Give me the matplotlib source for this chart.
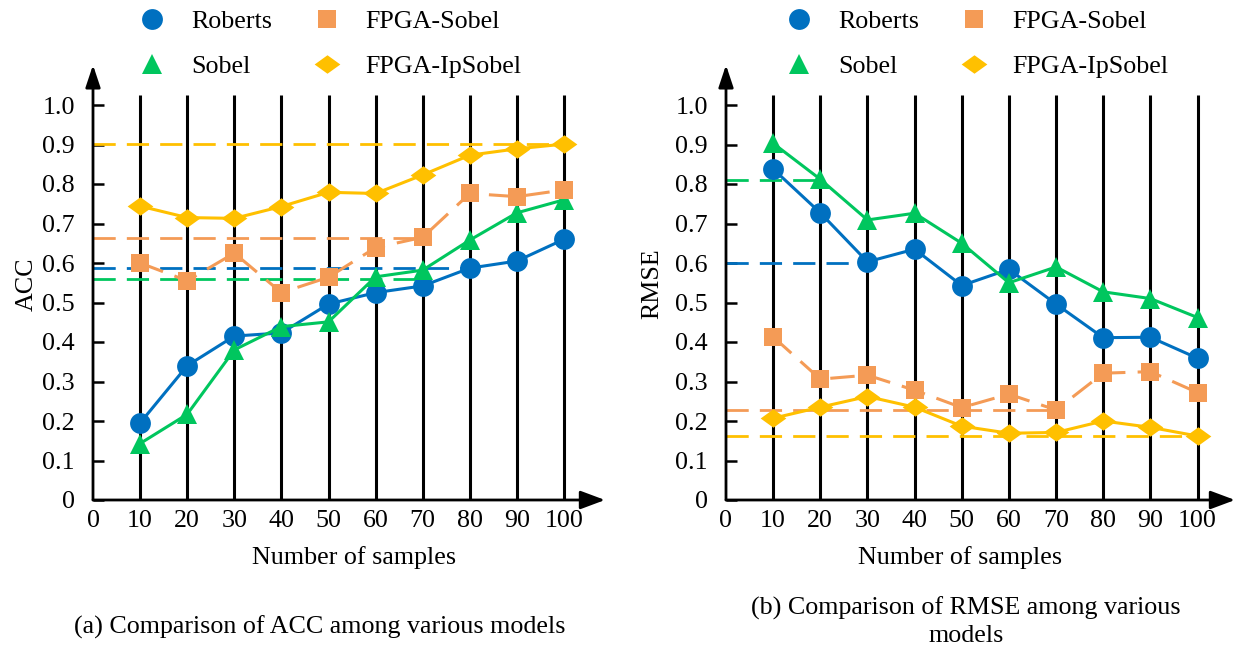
import matplotlib
matplotlib.use("Agg")
import matplotlib.pyplot as plt
from matplotlib.lines import Line2D

plt.rcParams['font.family'] = ['Liberation Serif', 'DejaVu Serif']
plt.rcParams['mathtext.fontset'] = 'stix'

# ---------------- data ----------------
samples = [10, 20, 30, 40, 50, 60, 70, 80, 90, 100]
x_ticks = [0, 10, 20, 30, 40, 50, 60, 70, 80, 90, 100]
y_ticks = [0, 0.1, 0.2, 0.3, 0.4, 0.5, 0.6, 0.7, 0.8, 0.9, 1.0]
y_tick_labels = ['0', '0.1', '0.2', '0.3', '0.4', '0.5', '0.6', '0.7', '0.8', '0.9', '1.0']
series_names = ['Roberts', 'Sobel', 'FPGA-Sobel', 'FPGA-IpSobel']

acc_roberts = [0.195, 0.34, 0.415, 0.423, 0.496, 0.525, 0.542, 0.587, 0.605, 0.66]
acc_sobel = [0.143, 0.217, 0.38, 0.439, 0.451, 0.565, 0.582, 0.658, 0.727, 0.76]
acc_fpga_sobel = [0.60, 0.555, 0.625, 0.525, 0.564, 0.639, 0.665, 0.776, 0.768, 0.785]
acc_fpga_ipsobel = [0.744, 0.715, 0.713, 0.743, 0.779, 0.776, 0.823, 0.873, 0.889, 0.901]
# reference (dashed) levels: (value, end sample)
acc_ref_levels = [0.587, 0.559, 0.663, 0.901]
acc_ref_ends = [80, 70, 70, 100]

rmse_roberts = [0.838, 0.727, 0.603, 0.635, 0.543, 0.584, 0.496, 0.411, 0.412, 0.359]
rmse_sobel = [0.903, 0.812, 0.709, 0.726, 0.65, 0.55, 0.59, 0.527, 0.51, 0.462]
rmse_fpga_sobel = [0.413, 0.306, 0.316, 0.278, 0.234, 0.268, 0.228, 0.321, 0.325, 0.272]
rmse_fpga_ipsobel = [0.207, 0.235, 0.262, 0.235, 0.187, 0.169, 0.171, 0.200, 0.184, 0.162]
rmse_ref_levels = [0.60, 0.81, 0.228, 0.162]
rmse_ref_ends = [30, 20, 70, 100]

captions = ['(a) Comparison of ACC among various models',
            '(b) Comparison of RMSE among various\nmodels']
y_labels = ['ACC', 'RMSE']
x_label = 'Number of samples'

# ---------------- style ----------------
colors = ['#0070C0', '#00C65E', '#F49B56', '#FFC000']
diamond = [(-1, 0), (0, 0.72), (1, 0), (0, -0.72), (-1, 0)]
markers = ['o', '^', 's', diamond]
msizes = [15, 15, 13.5, 18.5]
styles = ['-', '-', (0, (8, 4)), '-']
FS = 18.7

W, H = 1243, 651
fig = plt.figure(figsize=(W / 100, H / 100), dpi=100)

def make_ax(left_px, right_px, x100_px):
    ax = fig.add_axes([left_px / W, 1 - 500 / H, (right_px - left_px) / W, (500 - 65) / H])
    xmax = 100 * (right_px - left_px) / (x100_px - left_px)
    ax.set_xlim(0, xmax)
    ax.set_ylim(0, (500 - 65) / 395)
    return ax

axes = [make_ax(93, 605, 564), make_ax(726, 1235, 1197.5)]
all_data = [[acc_roberts, acc_sobel, acc_fpga_sobel, acc_fpga_ipsobel],
            [rmse_roberts, rmse_sobel, rmse_fpga_sobel, rmse_fpga_ipsobel]]
all_refs = [(acc_ref_levels, acc_ref_ends), (rmse_ref_levels, rmse_ref_ends)]

for ax, data, (levels, ends), ylab in zip(axes, all_data, all_refs, y_labels):
    for s in ax.spines.values():
        s.set_visible(False)
    # axis arrows
    ax.annotate('', xy=(1, 0), xytext=(0, 0), xycoords='axes fraction',
                arrowprops=dict(arrowstyle='-|>,head_length=0.75,head_width=0.28',
                                lw=2, color='black', mutation_scale=20,
                                shrinkA=0, shrinkB=0), zorder=5)
    ax.annotate('', xy=(0, 1), xytext=(0, 0), xycoords='axes fraction',
                arrowprops=dict(arrowstyle='-|>,head_length=0.75,head_width=0.25',
                                lw=2, color='black', mutation_scale=18,
                                shrinkA=0, shrinkB=0), zorder=5)
    # vertical grid lines
    ax.vlines(samples, 0, (500 - 95) / 395, color='black', lw=2.2, zorder=1)
    # reference dashed lines
    for lev, end, c in zip(levels, ends, colors):
        ax.plot([0, end], [lev, lev], color=c, lw=2, dashes=(8, 4), zorder=2)
    # series
    for vals, c, m, ms, ls in zip(data, colors, markers, msizes, styles):
        ax.plot(samples, vals, color=c, lw=2.2, linestyle=ls, marker=m,
                markersize=ms, markeredgewidth=0, zorder=3, clip_on=False)
    ax.set_xticks(x_ticks)
    ax.set_xticklabels([str(t) for t in x_ticks], fontsize=FS)
    ax.set_yticks(y_ticks)
    ax.set_yticklabels(y_tick_labels, fontsize=FS)
    ax.tick_params(axis='x', length=0, pad=7)
    ax.tick_params(axis='y', direction='in', length=8, width=1.8, pad=13)

# axis labels and captions
fig.text(27 / W, 1 - 284 / H, y_labels[0], rotation=90, fontsize=FS, ha='center', va='center')
fig.text(652 / W, 1 - 284 / H, y_labels[1], rotation=90, fontsize=FS, ha='center', va='center')
fig.text(354 / W, 1 - 558 / H, x_label, fontsize=FS, ha='center', va='center')
fig.text(960 / W, 1 - 558 / H, x_label, fontsize=FS, ha='center', va='center')
fig.text(320 / W, 1 - 627 / H, captions[0], fontsize=FS, ha='center', va='center')
fig.text(966 / W, 1 - 622 / H, captions[1], fontsize=FS, ha='center', va='center',
         multialignment='center', linespacing=1.3)

# legends
handles = [Line2D([], [], linestyle='none', marker=m, color=c, markersize=ms,
                  markeredgewidth=0)
           for m, c, ms in zip(markers, colors, msizes)]
for cx in (330.5, 977.5):
    fig.legend(handles, series_names, loc='center', bbox_to_anchor=(cx / W, 1 - 44 / H),
               ncol=2, frameon=False, fontsize=FS, handlelength=1.0,
               handletextpad=1.0, columnspacing=1.6, labelspacing=0.85,
               borderpad=0)

fig.savefig('out.png', dpi=100)
